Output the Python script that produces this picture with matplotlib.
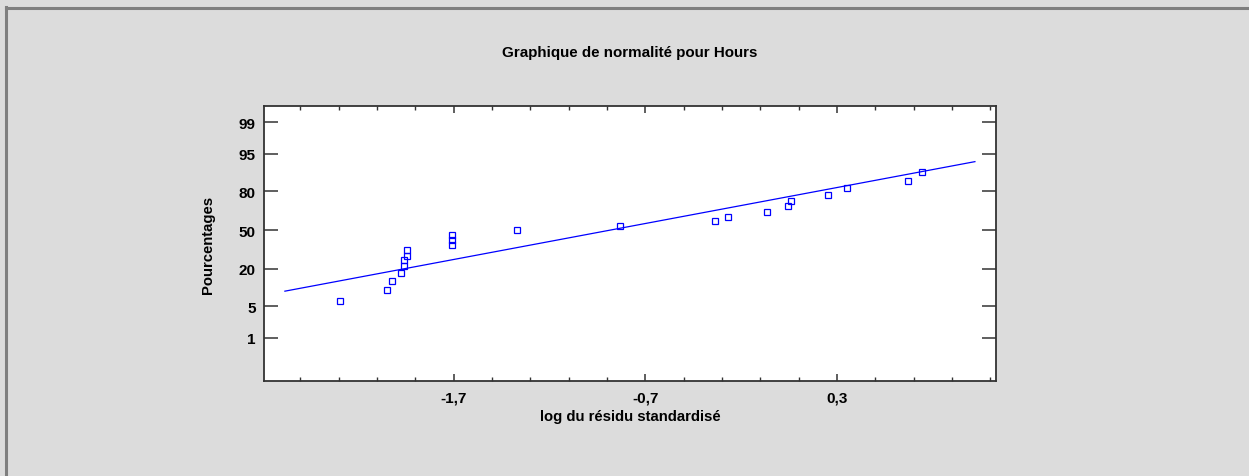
import matplotlib
matplotlib.use('Agg')
import matplotlib.pyplot as plt
from matplotlib.lines import Line2D
from statistics import NormalDist
import numpy as np

# log of standardized residuals (x) and cumulative percentages (y)
log_resid = [-2.294, -2.045, -2.021, -1.974, -1.957, -1.957, -1.944, -1.944,
             -1.706, -1.706, -1.706, -1.367, -0.831, -0.337, -0.267, -0.063,
             0.043, 0.062, 0.254, 0.353, 0.669, 0.746]
percents = [6.2, 9.9, 13.7, 17.8, 22.0, 25.8, 29.0, 33.3, 37.3, 41.7, 46.0,
            50.0, 53.7, 57.6, 61.3, 65.0, 69.5, 73.7, 77.5, 81.8, 85.5, 89.5]

# fitted normal line
fit_mean = -0.88
fit_sd = 1.287
fit_range = [-2.58, 1.02]

y_ticks = [1, 5, 20, 50, 80, 95, 99]
x_ticks = [-1.7, -0.7, 0.3]
x_ticklabels = ['-1,7', '-0,7', '0,3']

nd = NormalDist()
z = [nd.inv_cdf(p / 100) for p in percents]

plt.rcParams['font.family'] = ['Liberation Sans', 'DejaVu Sans']
plt.rcParams['font.weight'] = 'bold'

fig = plt.figure(figsize=(12.49, 4.77), dpi=100)
fig.patch.set_facecolor('#dcdcdc')
# frame lines at top/left of the window
fig.add_artist(Line2D([6/1249, 6/1249], [0, 1-8/477], color='#7f7f7f', lw=2.2, transform=fig.transFigure))
fig.add_artist(Line2D([6/1249, 1], [1-9/477, 1-9/477], color='#7f7f7f', lw=2.2, transform=fig.transFigure))

ax = fig.add_axes([264/1249, 1-382/477, 732/1249, 275/477])
ax.set_facecolor('white')

lx = np.array(fit_range)
ax.plot(lx, (lx - fit_mean) / fit_sd, color='#0000ff', lw=0.9)
ax.plot(log_resid, z, 's', mfc='none', mec='#0000ff', ms=4.2, mew=0.9)

ax.set_xlim(-2.689, 1.130)
ax.set_ylim(-3.261, 2.678)

ax.set_yticks([nd.inv_cdf(p / 100) for p in y_ticks])
ax.set_yticklabels([str(p) for p in y_ticks])
ax.set_xticks(x_ticks)
ax.set_xticklabels(x_ticklabels)
ax.set_xticks(np.arange(-2.5, 1.2, 0.2), minor=True)

ax.tick_params(axis='y', which='major', direction='in', length=10, width=1.1,
               right=True, labelsize=11, pad=6, color='#333333')
ax.tick_params(axis='x', which='major', direction='in', length=5, width=1.1,
               top=True, labelsize=11, pad=7, color='#333333')
ax.tick_params(axis='x', which='minor', direction='in', length=3, width=1.0,
               top=True, color='#333333')
for s in ax.spines.values():
    s.set_linewidth(1.3)
    s.set_color('#333333')

ax.set_xlabel('log du résidu standardisé', fontsize=10.7, fontweight='bold', labelpad=3)
ax.set_ylabel('Pourcentages', fontsize=10.7, fontweight='bold', labelpad=17)

fig.text(630/1249, 1-53/477, 'Graphique de normalité pour Hours', ha='center', va='center',
         fontsize=10.9, fontweight='bold')

fig.savefig('out.png', dpi=100, facecolor=fig.get_facecolor())
